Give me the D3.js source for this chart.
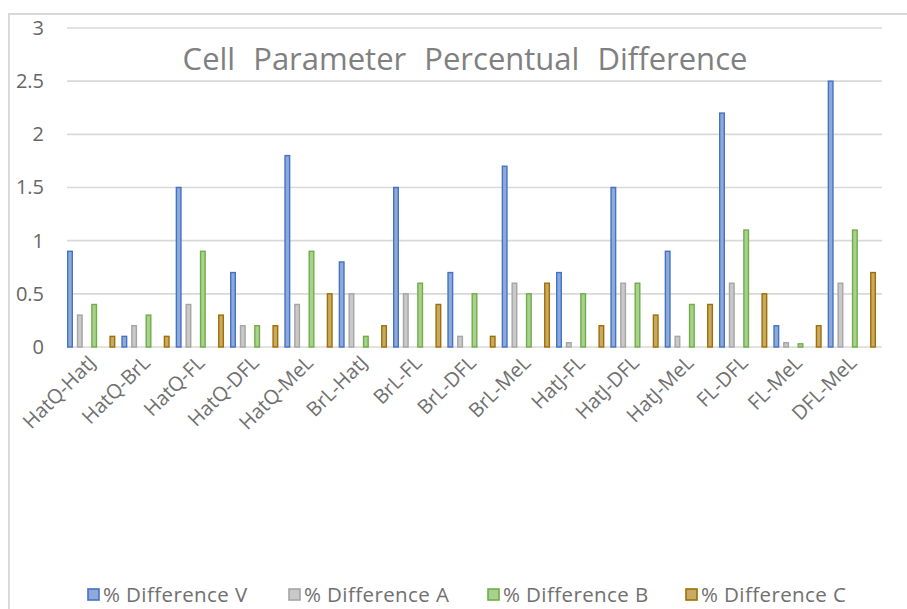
<!DOCTYPE html>
<html>
<head>
<meta charset="utf-8">
<script src="https://cdn.jsdelivr.net/npm/d3@7"></script>
<style>
  body { margin: 0; background: #fff; }
  text { font-family: 'Open Sans', 'Noto Sans', sans-serif; }
</style>
</head>
<body>
<div id="draw"></div>
<script>
const categories = ['HatQ-HatJ', 'HatQ-BrL', 'HatQ-FL', 'HatQ-DFL', 'HatQ-MeL', 'BrL-HatJ', 'BrL-FL', 'BrL-DFL',
  'BrL-MeL', 'HatJ-FL', 'HatJ-DFL', 'HatJ-MeL', 'FL-DFL', 'FL-MeL', 'DFL-MeL']
const seriesNames = ['% Difference V', '% Difference A', '% Difference B', '% Difference C']
const diffV = [0.9, 0.1, 1.5, 0.7, 1.8, 0.8, 1.5, 0.7, 1.7, 0.7, 1.5, 0.9, 2.2, 0.2, 2.5]
const diffA = [0.3, 0.2, 0.4, 0.2, 0.4, 0.5, 0.5, 0.1, 0.6, 0.04, 0.6, 0.1, 0.6, 0.04, 0.6]
const diffB = [0.4, 0.3, 0.9, 0.2, 0.9, 0.1, 0.6, 0.5, 0.5, 0.5, 0.6, 0.4, 1.1, 0.03, 1.1]
const diffC = [0.1, 0.1, 0.3, 0.2, 0.5, 0.2, 0.4, 0.1, 0.6, 0.2, 0.3, 0.4, 0.5, 0.2, 0.7]
const yTicks = [0, 0.5, 1, 1.5, 2, 2.5, 3]

const seriesValues = [diffV, diffA, diffB, diffC]
const strokeColors = ['#4472c4', '#a5a5a5', '#70ad47', '#9e7000']
const fillColors = ['#8eaadb', '#c9c9c9', '#a9d18e', '#c9a966']

const width = 907
const height = 609
const plot = { left: 67, right: 882, top: 28, bottom: 347 }

const svg = d3.select('#draw')
  .append('svg')
  .attr('width', width)
  .attr('height', height)

// chart frame
svg.append('rect')
  .attr('x', 9)
  .attr('y', 14)
  .attr('width', 1000)
  .attr('height', 1000)
  .attr('fill', 'none')
  .attr('stroke', '#d9d9d9')
  .attr('stroke-width', 2)

const xScale = d3.scaleBand().domain(categories).range([plot.left, plot.right])
const offset = d3.scaleOrdinal().domain(seriesNames).range([0, 0.18, 0.445, 0.78])
const yScale = d3.scaleLinear().domain([0, 3]).range([plot.bottom, plot.top])
const stroke = d3.scaleOrdinal().domain(seriesNames).range(strokeColors)
const fill = d3.scaleOrdinal().domain(seriesNames).range(fillColors)

// gridlines
svg.append('g')
  .selectAll('line')
  .data(yTicks)
  .enter().append('line')
  .attr('x1', plot.left)
  .attr('x2', plot.right)
  .attr('y1', d => yScale(d))
  .attr('y2', d => yScale(d))
  .attr('stroke', '#d9d9d9')
  .attr('stroke-width', 1.6)

// y axis labels
const yAxis = d3.axisLeft(yScale).tickValues(yTicks).tickFormat(d => String(d)).tickSize(0).tickPadding(0)
svg.append('g')
  .attr('transform', 'translate(44,0)')
  .call(yAxis)
  .call(g => g.select('.domain').remove())
  .selectAll('text')
  .attr('fill', '#666')
  .style('font-size', '20px')
  .style('font-family', "'Open Sans', sans-serif")

// title
svg.append('text')
  .attr('x', 465)
  .attr('y', 70)
  .attr('text-anchor', 'middle')
  .attr('fill', '#808080')
  .style('font-size', '31px')
  .style('word-spacing', '10px')
  .text('Cell Parameter Percentual Difference')

// bars
const barData = []
seriesNames.forEach((s, i) => {
  categories.forEach((c, j) => {
    barData.push({ series: s, category: c, value: seriesValues[i][j] })
  })
})

svg.append('g')
  .selectAll('.bar')
  .data(barData)
  .enter().append('rect')
  .attr('class', 'bar')
  .attr('x', d => xScale(d.category) + offset(d.series) * xScale.bandwidth() + 0.7)
  .attr('y', d => yScale(d.value))
  .attr('width', 4.6)
  .attr('height', d => yScale(0) - yScale(d.value))
  .attr('fill', d => fill(d.series))
  .attr('stroke', d => stroke(d.series))
  .attr('stroke-width', 1.4)

// x labels
svg.append('g')
  .selectAll('.xlabel')
  .data(categories)
  .enter().append('text')
  .attr('class', 'xlabel')
  .attr('transform', d => 'translate(' + (xScale(d) + xScale.bandwidth() / 2 + 3) + ',364) rotate(-45)')
  .attr('text-anchor', 'end')
  .attr('fill', '#707070')
  .style('font-size', '20px')
  .text(d => d)

// legend
const legendX = [88, 289, 488, 686]
const legend = svg.selectAll('.legend')
  .data(seriesNames)
  .enter().append('g')
  .attr('class', 'legend')
  .attr('transform', (d, i) => 'translate(' + legendX[i] + ',589)')

legend.append('rect')
  .attr('width', 11)
  .attr('height', 11)
  .attr('fill', d => fill(d))
  .attr('stroke', d => stroke(d))
  .attr('stroke-width', 1.6)

legend.append('text')
  .attr('x', 15)
  .attr('y', 13)
  .attr('fill', '#707070')
  .style('font-size', '20.5px')
  .style('letter-spacing', '0.4px')
  .text(d => d)
</script>
</body>
</html>
